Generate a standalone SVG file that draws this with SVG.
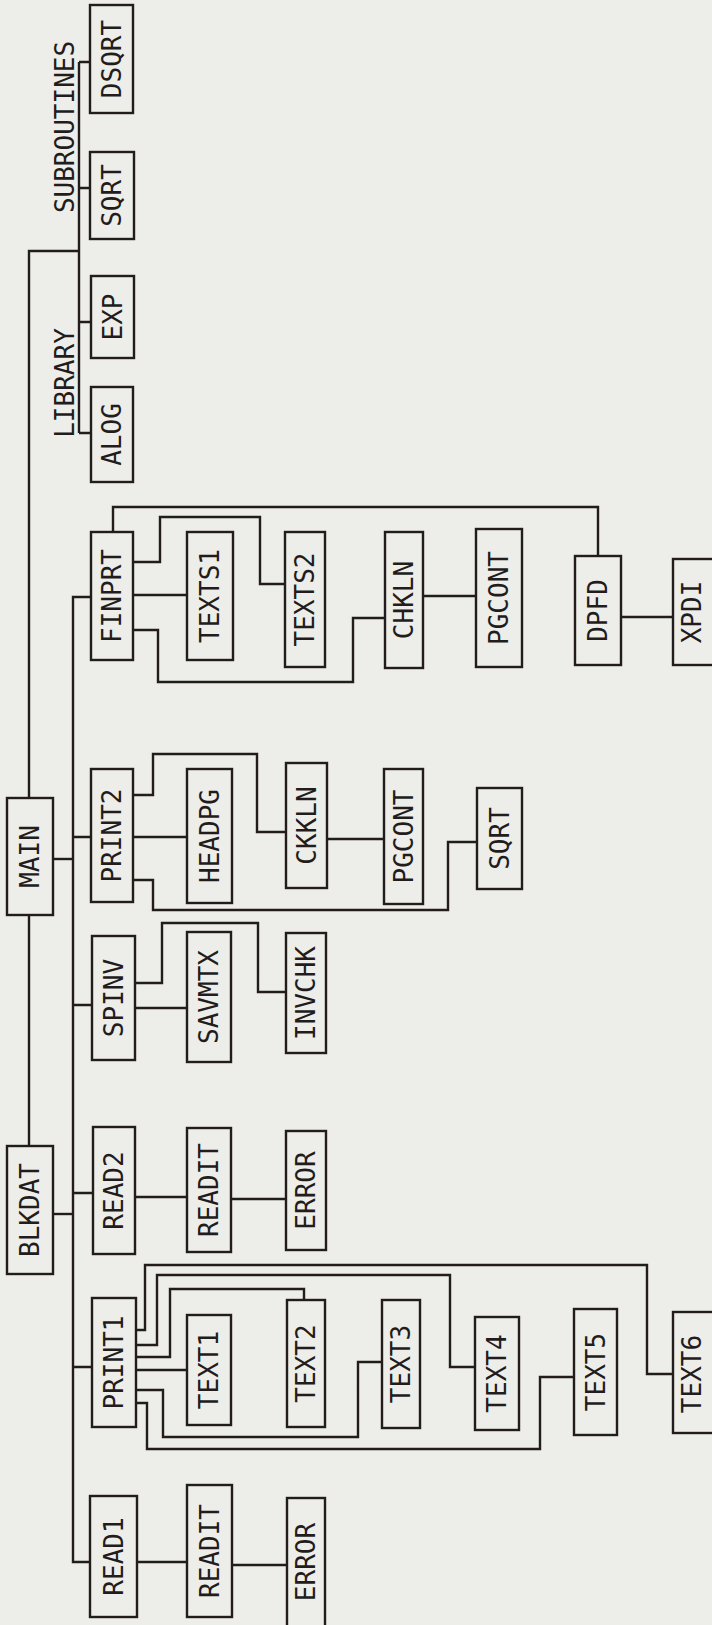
<svg xmlns="http://www.w3.org/2000/svg" width="712" height="1625" viewBox="0 0 712 1625">
<style>
.b{fill:none;stroke:#221c1c;stroke-width:2.4}
.c{fill:none;stroke:#221c1c;stroke-width:2.4;stroke-linejoin:miter}
.t{font-family:"DejaVu Sans Mono","Liberation Mono",monospace;font-size:26px;fill:#221c1c;text-anchor:middle}
</style>
<rect width="712" height="1625" fill="#edede9"/>
<g id="connectors">
<path class="c" d="M29,798 V251 H79"/>
<path class="c" d="M79,62 V433"/>
<path class="c" d="M79,62 H90 M79,188 H90 M79,322 H91 M79,433 H91"/>
<path class="c" d="M29,915 V1146"/>
<path class="c" d="M53,859 H73"/>
<path class="c" d="M53,1214 H73"/>
<path class="c" d="M91,597 H73 V1562 H90"/>
<path class="c" d="M73,837 H91 M73,1005 H92 M73,1193 H93 M73,1367 H92"/>
<path class="c" d="M133,595 H187"/>
<path class="c" d="M133,562 H160 V517 H260 V584 H285"/>
<path class="c" d="M133,630 H158 V682 H353 V618 H385"/>
<path class="c" d="M113,532 V507 H598 V556"/>
<path class="c" d="M423,596 H476"/>
<path class="c" d="M621,617 H673"/>
<path class="c" d="M133,837 H187"/>
<path class="c" d="M133,795 H153 V754 H257 V832 H286"/>
<path class="c" d="M133,880 H153 V910 H448 V842 H477"/>
<path class="c" d="M327,839 H384"/>
<path class="c" d="M135,1008 H187"/>
<path class="c" d="M135,983 H162 V923 H258 V992 H286"/>
<path class="c" d="M135,1197 H187"/>
<path class="c" d="M231,1199 H286"/>
<path class="c" d="M136,1330 H145 V1265 H647 V1374 H673"/>
<path class="c" d="M136,1345 H157 V1275 H450 V1367 H475"/>
<path class="c" d="M136,1357 H170 V1289 H304 V1300"/>
<path class="c" d="M136,1370 H187"/>
<path class="c" d="M136,1390 H163 V1437 H358 V1362 H382"/>
<path class="c" d="M136,1403 H147 V1449 H540 V1377 H574"/>
<path class="c" d="M137,1562 H187"/>
<path class="c" d="M232,1565 H287"/>
</g>
<g id="label-subroutines"><text class="t" transform="translate(65,127) rotate(-90)" dy="0.36em">SUBROUTINES</text></g>
<g id="label-library"><text class="t" transform="translate(65,383) rotate(-90)" dy="0.36em">LIBRARY</text></g>
<g id="n-dsqrt"><rect class="b" x="90" y="5" width="43" height="108"/><text class="t" transform="translate(111.5,59) rotate(-90)" dy="0.36em">DSQRT</text></g>
<g id="n-sqrt-lib"><rect class="b" x="90" y="152" width="44" height="87"/><text class="t" transform="translate(112,195.5) rotate(-90)" dy="0.36em">SQRT</text></g>
<g id="n-exp"><rect class="b" x="91" y="276" width="43" height="82"/><text class="t" transform="translate(112.5,317) rotate(-90)" dy="0.36em">EXP</text></g>
<g id="n-alog"><rect class="b" x="91" y="387" width="42" height="95"/><text class="t" transform="translate(112,434.5) rotate(-90)" dy="0.36em">ALOG</text></g>
<g id="n-main"><rect class="b" x="7" y="798" width="46" height="117"/><text class="t" transform="translate(30,856.5) rotate(-90)" dy="0.36em">MAIN</text></g>
<g id="n-blkdat"><rect class="b" x="7" y="1146" width="46" height="128"/><text class="t" transform="translate(30,1210) rotate(-90)" dy="0.36em">BLKDAT</text></g>
<g id="n-finprt"><rect class="b" x="91" y="532" width="42" height="128"/><text class="t" transform="translate(112,596) rotate(-90)" dy="0.36em">FINPRT</text></g>
<g id="n-print2"><rect class="b" x="91" y="769" width="42" height="133"/><text class="t" transform="translate(112,835.5) rotate(-90)" dy="0.36em">PRINT2</text></g>
<g id="n-spinv"><rect class="b" x="92" y="936" width="43" height="124"/><text class="t" transform="translate(113.5,998) rotate(-90)" dy="0.36em">SPINV</text></g>
<g id="n-read2"><rect class="b" x="93" y="1127" width="42" height="127"/><text class="t" transform="translate(114,1190.5) rotate(-90)" dy="0.36em">READ2</text></g>
<g id="n-print1"><rect class="b" x="92" y="1298" width="44" height="129"/><text class="t" transform="translate(114,1362.5) rotate(-90)" dy="0.36em">PRINT1</text></g>
<g id="n-read1"><rect class="b" x="90" y="1496" width="47" height="121"/><text class="t" transform="translate(113.5,1556.5) rotate(-90)" dy="0.36em">READ1</text></g>
<g id="n-texts1"><rect class="b" x="187" y="532" width="46" height="128"/><text class="t" transform="translate(210,596) rotate(-90)" dy="0.36em">TEXTS1</text></g>
<g id="n-headpg"><rect class="b" x="187" y="769" width="45" height="134"/><text class="t" transform="translate(209.5,836) rotate(-90)" dy="0.36em">HEADPG</text></g>
<g id="n-savmtx"><rect class="b" x="187" y="932" width="44" height="130"/><text class="t" transform="translate(209,997) rotate(-90)" dy="0.36em">SAVMTX</text></g>
<g id="n-readit1"><rect class="b" x="187" y="1128" width="44" height="124"/><text class="t" transform="translate(209,1190) rotate(-90)" dy="0.36em">READIT</text></g>
<g id="n-text1"><rect class="b" x="187" y="1315" width="44" height="110"/><text class="t" transform="translate(209,1370) rotate(-90)" dy="0.36em">TEXT1</text></g>
<g id="n-readit2"><rect class="b" x="187" y="1485" width="45" height="132"/><text class="t" transform="translate(209.5,1551) rotate(-90)" dy="0.36em">READIT</text></g>
<g id="n-texts2"><rect class="b" x="285" y="532" width="40" height="135"/><text class="t" transform="translate(305,599.5) rotate(-90)" dy="0.36em">TEXTS2</text></g>
<g id="n-ckkln"><rect class="b" x="286" y="763" width="41" height="125"/><text class="t" transform="translate(306.5,825.5) rotate(-90)" dy="0.36em">CKKLN</text></g>
<g id="n-invchk"><rect class="b" x="286" y="933" width="40" height="120"/><text class="t" transform="translate(306,993) rotate(-90)" dy="0.36em">INVCHK</text></g>
<g id="n-error1"><rect class="b" x="286" y="1131" width="40" height="119"/><text class="t" transform="translate(306,1190.5) rotate(-90)" dy="0.36em">ERROR</text></g>
<g id="n-text2"><rect class="b" x="287" y="1300" width="38" height="127"/><text class="t" transform="translate(306,1363.5) rotate(-90)" dy="0.36em">TEXT2</text></g>
<g id="n-error2"><rect class="b" x="287" y="1498" width="38" height="132"/><text class="t" transform="translate(306,1562) rotate(-90)" dy="0.36em">ERROR</text></g>
<g id="n-chkln"><rect class="b" x="385" y="532" width="38" height="136"/><text class="t" transform="translate(404,600) rotate(-90)" dy="0.36em">CHKLN</text></g>
<g id="n-pgcont1"><rect class="b" x="384" y="769" width="39" height="135"/><text class="t" transform="translate(403.5,836.5) rotate(-90)" dy="0.36em">PGCONT</text></g>
<g id="n-text3"><rect class="b" x="382" y="1300" width="38" height="128"/><text class="t" transform="translate(401,1364) rotate(-90)" dy="0.36em">TEXT3</text></g>
<g id="n-pgcont2"><rect class="b" x="476" y="529" width="46" height="138"/><text class="t" transform="translate(499,598) rotate(-90)" dy="0.36em">PGCONT</text></g>
<g id="n-sqrt2"><rect class="b" x="477" y="788" width="45" height="101"/><text class="t" transform="translate(499.5,838.5) rotate(-90)" dy="0.36em">SQRT</text></g>
<g id="n-text4"><rect class="b" x="475" y="1317" width="44" height="113"/><text class="t" transform="translate(497,1373.5) rotate(-90)" dy="0.36em">TEXT4</text></g>
<g id="n-dpfd"><rect class="b" x="575" y="556" width="46" height="109"/><text class="t" transform="translate(598,610.5) rotate(-90)" dy="0.36em">DPFD</text></g>
<g id="n-text5"><rect class="b" x="574" y="1309" width="43" height="126"/><text class="t" transform="translate(595.5,1372) rotate(-90)" dy="0.36em">TEXT5</text></g>
<g id="n-xpdi"><rect class="b" x="673" y="559" width="45" height="106"/><text class="t" transform="translate(692,612) rotate(-90)" dy="0.36em">XPDI</text></g>
<g id="n-text6"><rect class="b" x="673" y="1312" width="45" height="121"/><text class="t" transform="translate(692,1374) rotate(-90)" dy="0.36em">TEXT6</text></g>
</svg>
